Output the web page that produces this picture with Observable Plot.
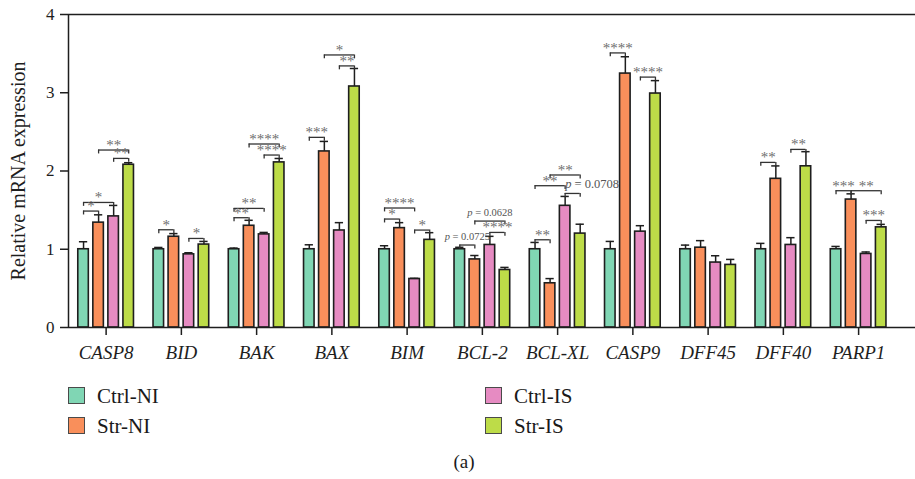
<!DOCTYPE html>
<html><head><meta charset="utf-8">
<script src="https://cdn.jsdelivr.net/npm/d3@7"></script>
<script src="https://cdn.jsdelivr.net/npm/@observablehq/plot@0.6"></script>
<style>
body{margin:0;background:#fff;}
#wrap{position:relative;width:915px;height:479px;font-family:"Liberation Serif","DejaVu Serif",serif;color:#1a1a1a;}
#chart{position:absolute;left:0;top:0;}
#chart svg, #chart svg text{font-family:"Liberation Serif","DejaVu Serif",serif !important;}
.sw{position:absolute;width:17px;height:17px;box-sizing:border-box;border:1.5px solid #4a4a4a;}
.lt{position:absolute;font-size:21px;line-height:21px;white-space:nowrap;}
#cap{position:absolute;font-size:19px;line-height:19px;left:0;width:928px;text-align:center;}
</style></head><body>
<div id="wrap"><div id="chart"></div></div>
<script>
// ---- data ----
const genes = ["CASP8","BID","BAK","BAX","BIM","BCL-2","BCL-XL","CASP9","DFF45","DFF40","PARP1"];
const groups = ["Ctrl-NI","Str-NI","Ctrl-IS","Str-IS"];
const colors = ["#80d6b4","#f98f5b","#e68bc2","#bddc48"];

const ctrlNI = [1, 1, 1, 1, 1, 1, 1, 1, 1, 1, 1];
const strNI  = [1.34, 1.16, 1.30, 2.25, 1.27, 0.87, 0.565, 3.245, 1.02, 1.90, 1.635];
const ctrlIS = [1.42, 0.935, 1.19, 1.24, 0.62, 1.055, 1.555, 1.225, 0.83, 1.055, 0.94];
const strIS  = [2.08, 1.06, 2.11, 3.08, 1.12, 0.735, 1.20, 2.99, 0.80, 2.06, 1.28];

const ctrlNIErr = [0.096, 0.023, 0.015, 0.057, 0.045, 0.025, 0.087, 0.10, 0.053, 0.075, 0.036];
const strNIErr  = [0.10, 0.04, 0.07, 0.128, 0.07, 0.05, 0.06, 0.215, 0.09, 0.165, 0.073];
const ctrlISErr = [0.14, 0.02, 0.025, 0.10, 0.008, 0.11, 0.12, 0.076, 0.087, 0.093, 0.025];
const strISErr  = [0.026, 0.04, 0.05, 0.23, 0.092, 0.033, 0.12, 0.165, 0.07, 0.187, 0.038];

const yTicks = [0, 1, 2, 3, 4];

// significance brackets: gene, from group index, to group index, height, label
const bracketGene  = ["CASP8","CASP8","CASP8","CASP8","BID","BID","BAK","BAK","BAK","BAK","BAX","BAX","BAX","BIM","BIM","BIM","BCL-2","BCL-2","BCL-2","BCL-XL","BCL-XL","BCL-XL","BCL-XL","CASP9","CASP9","DFF40","DFF40","PARP1","PARP1","PARP1"];
const bracketFrom  = [0,0,1,2, 0,2, 0,0,1,2, 0,1,2, 0,0,2, 0,1,2, 0,0,1,2, 0,2, 0,2, 0,1,2];
const bracketTo    = [1,2,3,3, 1,3, 1,2,3,3, 1,3,3, 1,2,3, 1,3,3, 1,2,3,3, 1,3, 1,3, 1,3,3];
const bracketY     = [1.488,1.598,2.268,2.161, 1.249,1.138, 1.403,1.522,2.345,2.204, 2.43,3.483,3.343, 1.386,1.527,1.245, 1.054,1.36,1.215, 1.121,1.812,1.949,1.713, 3.509,3.2, 2.11,2.276, 1.748,1.748,1.368];
const bracketLabel = ["*","*","**","**", "*","*", "**","**","****","****", "***","*","**", "*","****","*", "p = 0.0725","p = 0.0628","****", "**","**","**","p = 0.0708", "****","****", "**","**", "***","**","***"];

// ---- tables ----
const values = [ctrlNI, strNI, ctrlIS, strIS];
const errs = [ctrlNIErr, strNIErr, ctrlISErr, strISErr];
const bars = [];
genes.forEach((g, i) => groups.forEach((grp, j) => bars.push({gene: g, group: grp, i, j, value: values[j][i], err: errs[j][i]})));
const brackets = bracketGene.map((g, k) => ({gene: g, i: genes.indexOf(g), a: bracketFrom[k], b: bracketTo[k], h: bracketY[k], label: bracketLabel[k]}));

const step = 0.2, half = 0.07, cap = 0.055, hook = 0.05;
const pos = (i, j) => i + (j - 1.5) * step;
const cx = d => pos(d.i, d.j);
const ca = d => pos(d.i, d.a), cb = d => pos(d.i, d.b);
const mid = d => (ca(d) + cb(d)) / 2;
const isP = d => d.label.startsWith("p");
const ink = "#1e1e1e";
const serif = "Liberation Serif";

const chart = Plot.plot({
  width: 915, height: 372,
  marginLeft: 68, marginRight: 0, marginTop: 14, marginBottom: 45,
  style: {fontFamily: serif, background: "white", color: ink},
  x: {domain: [-0.5, 10.756]},
  y: {domain: [0, 4]},
  color: {domain: groups, range: colors},
  marks: [
    Plot.rect(bars, {x1: d => cx(d) - half, x2: d => cx(d) + half, y1: 0, y2: "value", fill: "group", stroke: ink, strokeWidth: 1.6}),
    Plot.ruleX(bars, {x: cx, y1: "value", y2: d => d.value + d.err, stroke: ink, strokeWidth: 1.5}),
    Plot.ruleY(bars, {y: d => d.value + d.err, x1: d => cx(d) - cap, x2: d => cx(d) + cap, stroke: ink, strokeWidth: 1.5}),
    Plot.ruleY(brackets, {y: "h", x1: ca, x2: cb, stroke: "#333", strokeWidth: 1.3}),
    Plot.ruleX(brackets, {x: ca, y1: "h", y2: d => d.h - hook, stroke: "#333", strokeWidth: 1.3}),
    Plot.ruleX(brackets, {x: cb, y1: "h", y2: d => d.h - hook, stroke: "#333", strokeWidth: 1.3}),
    Plot.text(brackets.filter(d => !isP(d)), {x: mid, y: "h", text: "label", lineAnchor: "bottom", dy: 0, fill: "#6e6e6e", fontSize: 15, fontFamily: serif}),
    Plot.text(brackets.filter(d => isP(d) && d.label !== "p = 0.0708"), {x: mid, y: "h", text: "label", lineAnchor: "bottom", dy: -5, fill: "#555", fontSize: 10.5, fontFamily: serif}),
    Plot.text(brackets.filter(d => d.label === "p = 0.0708"), {x: ca, y: "h", text: "label", lineAnchor: "bottom", textAnchor: "start", dy: -5, fill: "#555", fontSize: 12.5, fontFamily: serif}),
    Plot.ruleY([0, 4], {stroke: ink, strokeWidth: 1.5}),
    Plot.ruleX([-0.5], {y1: 0, y2: 4, stroke: ink, strokeWidth: 1.5}),
    Plot.axisY({ticks: yTicks, tickFormat: d => String(d), tickSize: 8, tickPadding: 6, fontSize: 17, fontFamily: serif, label: null, strokeWidth: 1.5}),
    Plot.axisX({ticks: d3.range(genes.length), tickFormat: i => genes[i], tickSize: 8, tickPadding: 10, fontSize: 19, fontStyle: "italic", fontFamily: serif, label: null, strokeWidth: 1.5}),
    Plot.text(["Relative mRNA expression"], {frameAnchor: "left", dx: -50, rotate: -90, fontSize: 20, fontFamily: serif, textAnchor: "middle"})
  ]
});

// italic "p" in p-value labels
d3.select(chart).selectAll("text").each(function() {
  const t = this.textContent;
  if (/^p = /.test(t) && this.children.length === 0) {
    const s = d3.select(this);
    s.text(null);
    s.append("tspan").attr("font-style", "italic").text("p");
    s.append("tspan").text(t.slice(1));
  }
});
document.getElementById("chart").appendChild(chart);

// legend (HTML, below the SVG)
const wrap = document.getElementById("wrap");
const legendPos = [[68, 387], [68, 417], [485, 387], [485, 417]];
groups.forEach((g, j) => {
  const [lx, ly] = legendPos[j];
  const sw = document.createElement("div");
  sw.className = "sw"; sw.style.left = lx + "px"; sw.style.top = ly + "px"; sw.style.background = colors[j];
  wrap.appendChild(sw);
  const t = document.createElement("div");
  t.className = "lt"; t.style.left = (lx + 29) + "px"; t.style.top = (ly - 1.5) + "px"; t.textContent = g;
  wrap.appendChild(t);
});
const capEl = document.createElement("div");
capEl.id = "cap"; capEl.style.top = "452px"; capEl.textContent = "(a)";
wrap.appendChild(capEl);
</script>
</body></html>
